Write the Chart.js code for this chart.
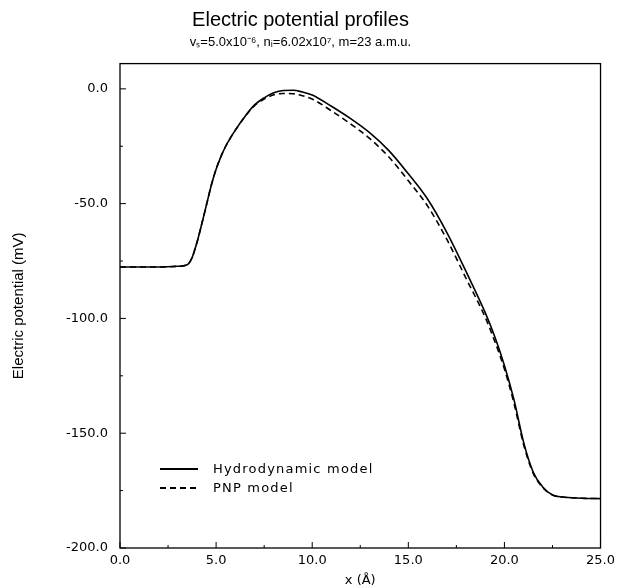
<!DOCTYPE html>
<html>
<head>
<meta charset="utf-8">
<script src="https://cdn.jsdelivr.net/npm/chart.js@4/dist/chart.umd.min.js"></script>
<style>
  body { margin: 0; background: #fff; }
  #wrap { position: relative; width: 620px; height: 588px; }
  .leg { position: absolute; font: 13px "DejaVu Sans", sans-serif; letter-spacing: 1.2px; color: #000; line-height: 16px; }
  .legline { position: absolute; }
</style>
</head>
<body>
<div id="wrap">
  <canvas id="potChart" width="620" height="588"></canvas>
  <svg class="legline" style="left:160px;top:465px" width="40" height="8"><line x1="0" y1="4" x2="38" y2="4" stroke="#000" stroke-width="1.8"/></svg>
  <div class="leg" style="left:213px;top:461px">Hydrodynamic model</div>
  <svg class="legline" style="left:160px;top:484px" width="40" height="8"><line x1="0" y1="4" x2="38" y2="4" stroke="#000" stroke-width="1.8" stroke-dasharray="6,4"/></svg>
  <div class="leg" style="left:213px;top:480px">PNP model</div>
</div>
<script>
// x positions (Å) shared by both curves
const xVals = [0, 1, 2, 3, 3.5, 3.75, 4, 4.25, 4.5, 4.75, 5, 5.25, 5.5, 6, 6.5, 7, 7.5, 8, 8.5, 9, 9.5, 10,
  11, 12, 13, 14, 15, 16, 17, 18, 19, 19.5, 20, 20.5, 21, 21.5, 22, 22.5, 23, 24, 25];
// electric potential (mV)
const hydroVals = [-77.6, -77.6, -77.6, -77.3, -76.6, -73.5, -67, -59, -50.5, -42, -35, -29.5, -25, -18, -12, -7, -3.9, -1.7, -0.7, -0.6, -1.4, -2.7,
  -7.6, -13, -19.2, -27, -37, -48, -62.5, -79.5, -97.5, -108, -120.5, -135.5, -154, -167, -173.5, -176.9, -177.8, -178.3, -178.5];
const pnpVals = [-77.6, -77.6, -77.6, -77.3, -76.6, -73.5, -67, -59, -50.5, -42, -35, -29.5, -25, -18, -12.1, -7.3, -4.4, -2.6, -2.0, -2.1, -3.0, -4.4,
  -9.6, -15.3, -21.7, -29.8, -40, -51, -65.5, -82.5, -99.5, -110, -122, -137, -155, -167.5, -173.7, -176.9, -177.8, -178.3, -178.5];

const xMinor = [2.5, 7.5, 12.5, 17.5, 22.5];
const yMinor = [-175, -125, -75, -25];

const toPts = vals => xVals.map((x, i) => ({ x: x, y: vals[i] }));

const framePlugin = {
  id: 'frame',
  afterDatasetsDraw(chart) {
    const { ctx, chartArea: a, scales: { x, y } } = chart;
    ctx.save();
    ctx.strokeStyle = '#000';
    ctx.lineWidth = 1.3;
    ctx.strokeRect(a.left, a.top, a.right - a.left, a.bottom - a.top);
    ctx.lineWidth = 1;
    ctx.beginPath();
    x.ticks.forEach(t => {
      const px = x.getPixelForValue(t.value);
      ctx.moveTo(px, a.bottom); ctx.lineTo(px, a.bottom - 6);
    });
    xMinor.forEach(v => {
      const px = x.getPixelForValue(v);
      ctx.moveTo(px, a.bottom); ctx.lineTo(px, a.bottom - 3);
    });
    y.ticks.forEach(t => {
      const py = y.getPixelForValue(t.value);
      ctx.moveTo(a.left, py); ctx.lineTo(a.left + 6, py);
    });
    yMinor.forEach(v => {
      const py = y.getPixelForValue(v);
      ctx.moveTo(a.left, py); ctx.lineTo(a.left + 3, py);
    });
    ctx.stroke();
    ctx.restore();
  }
};

new Chart(document.getElementById('potChart'), {
  type: 'line',
  data: {
    datasets: [{
      label: 'Hydrodynamic model',
      data: toPts(hydroVals),
      borderColor: '#000',
      borderWidth: 1.6,
      pointRadius: 0,
      cubicInterpolationMode: 'monotone'
    }, {
      label: 'PNP model',
      data: toPts(pnpVals),
      borderColor: '#000',
      borderWidth: 1.6,
      borderDash: [6, 4],
      pointRadius: 0,
      cubicInterpolationMode: 'monotone'
    }]
  },
  options: {
    responsive: false,
    animation: false,
    layout: { padding: { left: 0, right: 19, top: 0, bottom: 0 } },
    scales: {
      x: {
        type: 'linear',
        min: 0, max: 25,
        grid: { display: false, drawTicks: false },
        border: { display: false },
        ticks: {
          stepSize: 5,
          padding: 5,
          color: '#000',
          font: { family: 'DejaVu Sans', size: 13 },
          callback: v => v.toFixed(1)
        },
        title: {
          display: true, text: 'x (Å)', color: '#000',
          font: { family: 'DejaVu Sans', size: 13 },
          padding: { top: 0, bottom: 0 }
        },
        afterFit: s => { s.height = 40; }
      },
      y: {
        min: -200, max: 11,
        grid: { display: false, drawTicks: false },
        border: { display: false },
        afterBuildTicks: s => { s.ticks = s.ticks.filter(t => t.value % 50 === 0); },
        ticks: {
          stepSize: 50,
          padding: 12,
          color: '#000',
          font: { family: 'DejaVu Sans', size: 13 },
          callback: v => v.toFixed(1)
        },
        title: {
          display: true, text: 'Electric potential (mV)', color: '#000',
          font: { family: "'Liberation Sans Narrow', 'Liberation Sans', sans-serif", size: 15 },
          padding: { top: 10, bottom: 0 }
        },
        afterFit: s => { s.width = 120; }
      }
    },
    plugins: {
      legend: { display: false },
      tooltip: { enabled: false },
      title: {
        display: true,
        text: 'Electric potential profiles',
        color: '#000',
        font: { family: 'Liberation Sans', size: 20, weight: 'normal' },
        padding: { top: 8, bottom: 0 }
      },
      subtitle: {
        display: true,
        text: 'vₛ=5.0x10⁻⁶, nᵢ=6.02x10⁷, m=23 a.m.u.',
        color: '#000',
        font: { family: 'Liberation Sans', size: 13 },
        padding: { top: 3, bottom: 13 }
      }
    }
  },
  plugins: [framePlugin]
});
</script>
</body>
</html>
